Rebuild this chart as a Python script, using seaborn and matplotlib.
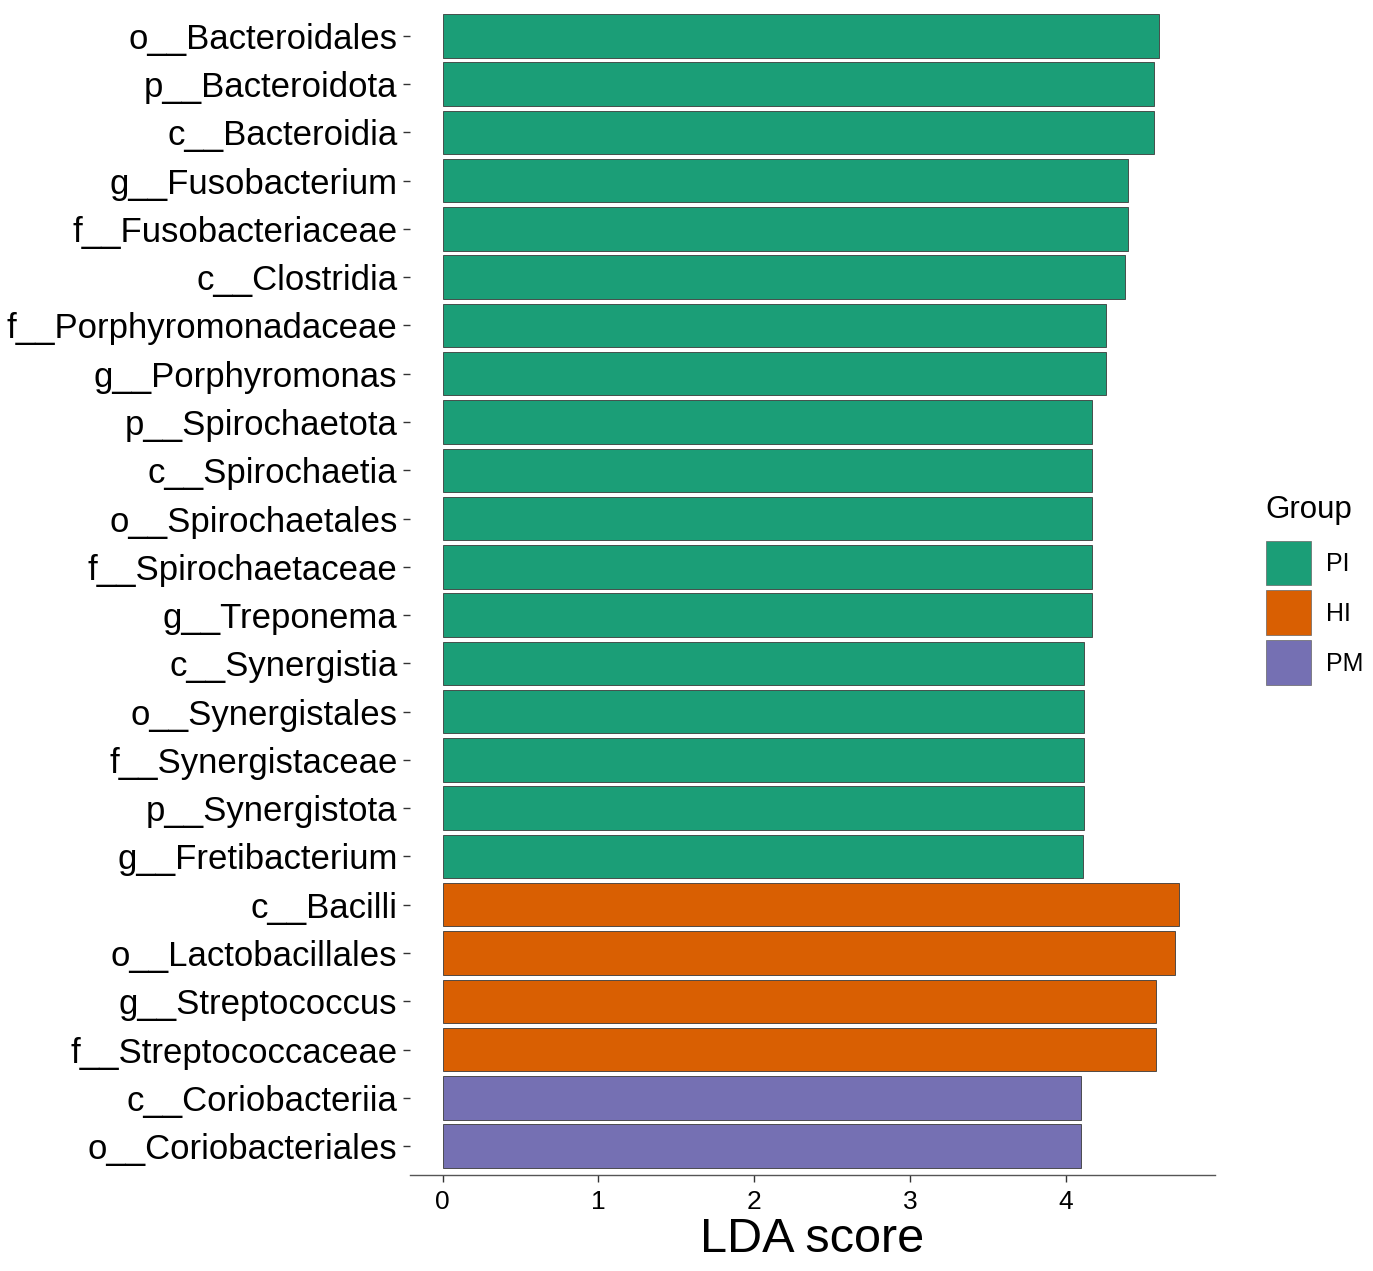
import pandas as pd
import numpy as np
import matplotlib
matplotlib.use('Agg')
import matplotlib.pyplot as plt
import seaborn as sns
from matplotlib.patches import Patch

# ----------------------------------------------------------------
# Data
# ----------------------------------------------------------------
taxa = [
    "o__Bacteroidales", "p__Bacteroidota", "c__Bacteroidia", "g__Fusobacterium",
    "f__Fusobacteriaceae", "c__Clostridia", "f__Porphyromonadaceae", "g__Porphyromonas",
    "p__Spirochaetota", "c__Spirochaetia", "o__Spirochaetales", "f__Spirochaetaceae",
    "g__Treponema", "c__Synergistia", "o__Synergistales", "f__Synergistaceae",
    "p__Synergistota", "g__Fretibacterium", "c__Bacilli", "o__Lactobacillales",
    "g__Streptococcus", "f__Streptococcaceae", "c__Coriobacteriia", "o__Coriobacteriales",
]
lda = [
    4.60, 4.57, 4.57, 4.40,
    4.40, 4.38, 4.26, 4.26,
    4.17, 4.17, 4.17, 4.17,
    4.17, 4.12, 4.12, 4.12,
    4.12, 4.11, 4.73, 4.70,
    4.58, 4.58, 4.10, 4.10,
]
groups = ["PI"] * 18 + ["HI"] * 4 + ["PM"] * 2
group_order = ["PI", "HI", "PM"]
palette = {"PI": "#1B9E77", "HI": "#D95F02", "PM": "#7570B3"}

df = pd.DataFrame({"taxon": taxa, "LDA": lda, "Group": groups})

# ----------------------------------------------------------------
# Plot
# ----------------------------------------------------------------
sns.set_style("white")
plt.rcParams['font.family'] = ['Liberation Sans', 'DejaVu Sans']
plt.rcParams['text.color'] = 'black'
plt.rcParams['axes.labelcolor'] = 'black'
plt.rcParams['xtick.color'] = 'black'
plt.rcParams['ytick.color'] = 'black'

fig = plt.figure(figsize=(13.73, 12.71), dpi=100)
ax = fig.add_axes([0.2986, 0.0755, 0.885 - 0.2986, 0.9946 - 0.0755])

sns.barplot(data=df, x="LDA", y="taxon", hue="Group", hue_order=group_order,
            palette=palette, order=taxa, dodge=False, width=0.9, saturation=1,
            edgecolor="#3a3a3a", linewidth=0.6, legend=False, ax=ax)

ax.set_xlim(-0.21, 4.96)
ax.set_ylim(len(taxa) - 0.5 + 0.1, -0.5 - 0.1)
ax.set_xticks([0, 1, 2, 3, 4])
ax.set_xlabel("LDA score", fontsize=35, labelpad=2)
ax.set_ylabel("")

for side in ["top", "right", "left"]:
    ax.spines[side].set_visible(False)
ax.spines["bottom"].set_color("#555555")
ax.spines["bottom"].set_linewidth(1.0)

ax.tick_params(axis="y", left=True, labelsize=25, length=5, width=1.0,
               color="#333333", pad=4)
ax.tick_params(axis="x", bottom=True, labelsize=19, length=5, width=1.0,
               color="#333333", pad=6)

# legend: square keys to the right of the panel, title drawn on its own
handles = [Patch(facecolor=palette[g], edgecolor="#666666", linewidth=0.5) for g in group_order]
leg = fig.legend(handles, group_order, loc="upper left",
                 bbox_to_anchor=(0.9128, 1 - 528 / 1271), frameon=False,
                 fontsize=18, borderpad=0,
                 handlelength=1.8, handleheight=2.39, handletextpad=0.6,
                 labelspacing=0.2)
fig.text(1265 / 1373, 1 - 495 / 1271, "Group", fontsize=22.5, va="top", ha="left")

fig.savefig("out.png", dpi=100, facecolor="white")
